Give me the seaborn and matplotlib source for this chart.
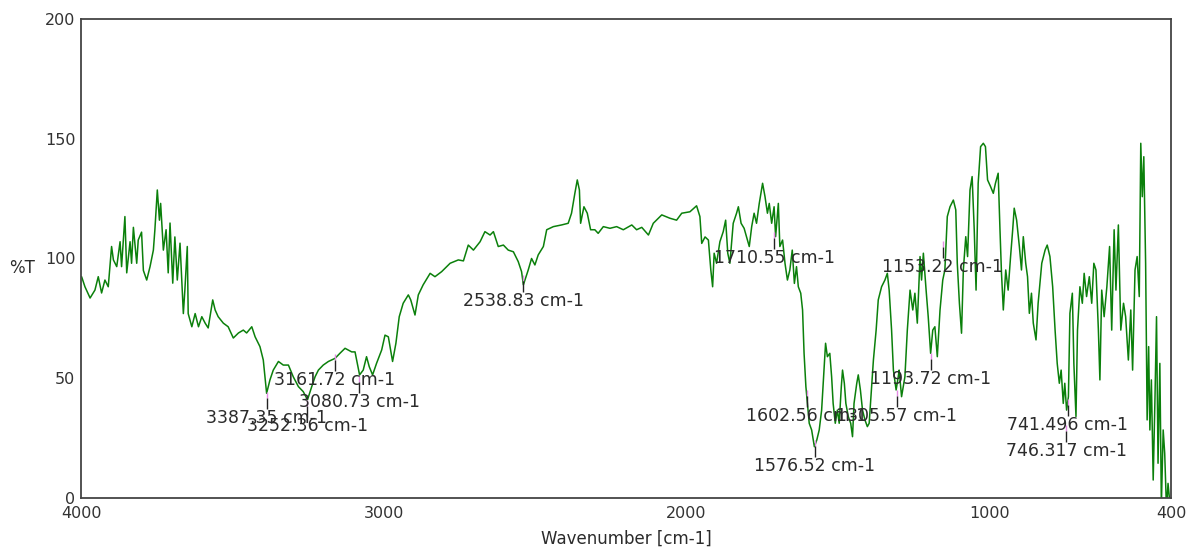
"""FTIR transmittance spectrum with labelled absorption peaks."""

import matplotlib

matplotlib.use("Agg")
import matplotlib.pyplot as plt
import pandas as pd
import seaborn as sns
from matplotlib.ticker import FixedLocator, MultipleLocator


WAVENUMBER = [
    3998, 3987, 3970, 3954, 3943, 3932, 3921, 3910, 3899, 3893, 3882, 3871,
    3866, 3855, 3849, 3838, 3833, 3827, 3816, 3811, 3800, 3794, 3783, 3772,
    3761, 3756, 3748, 3741, 3737, 3728, 3719, 3712, 3706, 3697, 3690, 3682,
    3673, 3662, 3657, 3649, 3646, 3634, 3623, 3612, 3601, 3590, 3580, 3565,
    3557, 3547, 3530, 3514, 3497, 3480, 3464, 3453, 3436, 3425, 3409, 3398,
    3387, 3376, 3365, 3348, 3332, 3315, 3299, 3282, 3266, 3252, 3238, 3227,
    3216, 3200, 3183, 3161, 3145, 3128, 3106, 3095, 3080, 3068, 3057, 3048,
    3037, 3024, 3007, 2996, 2985, 2971, 2960, 2949, 2936, 2919,
    2911, 2897, 2886, 2870, 2847, 2831, 2809, 2781, 2754, 2737, 2721, 2704,
    2682, 2666, 2649, 2638, 2622, 2605, 2589, 2572, 2556, 2545, 2539, 2523,
    2512, 2501, 2490, 2473, 2462, 2440, 2413, 2391, 2380, 2369, 2361, 2354,
    2350, 2339, 2328, 2317, 2303, 2292, 2275, 2253, 2231, 2209, 2181, 2165,
    2148, 2126, 2110, 2082, 2055, 2033, 2016, 1989, 1967, 1956,
    1950, 1939, 1928, 1920, 1914, 1909, 1901, 1890, 1879, 1871, 1864, 1857,
    1846, 1835, 1829, 1820, 1810, 1802, 1793, 1785, 1777, 1769, 1760, 1749,
    1741, 1733, 1727, 1719, 1711, 1706, 1697, 1692, 1683, 1675, 1667, 1659,
    1651, 1644, 1637, 1631, 1623, 1617, 1612, 1606, 1601, 1595, 1587, 1578,
    1570, 1562, 1554, 1546, 1541, 1535, 1527, 1521, 1516, 1509, 1502, 1496,
    1489, 1485, 1479, 1474, 1466, 1458, 1452, 1447, 1438, 1433, 1426, 1419,
    1411, 1403, 1397, 1389, 1383, 1374, 1367, 1356, 1345, 1337, 1331, 1323,
    1317, 1308, 1301,
    1298, 1290, 1279, 1271, 1262, 1253, 1246, 1238, 1229, 1224, 1218, 1209,
    1202, 1194, 1187, 1180, 1172, 1163, 1154, 1147, 1139, 1130, 1119, 1111,
    1106, 1099, 1092, 1086, 1078, 1072, 1064, 1057, 1050, 1044, 1037, 1029,
    1020, 1013, 1006, 996, 987, 980, 971, 965, 960, 954, 946, 938,
    930, 923, 918, 910, 901, 894, 888, 880, 874, 868, 861, 855,
    846, 839, 827, 816, 809, 800, 791, 783, 776, 769, 763, 756,
    751, 745, 739, 734, 726, 721, 714, 709, 701, 693, 687, 679,
    670, 662, 655, 648, 640, 635, 629, 621, 612, 603, 596, 588,
    582, 574, 566, 557, 550, 541, 533, 527, 519, 512, 505, 500,
    495, 490, 484, 479, 474, 470, 465, 459, 453, 448, 443, 437,
    432, 426, 421, 415, 410, 404,
]

TRANSMITTANCE = [
    92.4, 88.2, 83.5, 86.8, 92.4, 85.6, 91.0, 88.2, 105.0, 99.4, 96.6, 107.0,
    96.6, 117.5, 94.0, 107.0, 98.0, 113.0, 98.0, 107.7, 111.0, 95.0, 91.0, 96.6,
    103.5, 112.0, 128.6, 116.0, 123.0, 103.5, 112.0, 94.0, 114.8, 89.7, 109.0, 91.0,
    106.4, 77.0, 86.8, 105.0, 77.0, 71.5, 77.0, 71.5, 75.7, 73.0, 71.0, 82.7,
    78.5, 75.7, 73.0, 71.5, 66.8, 68.9, 70.1, 68.9, 71.5, 67.3, 63.2, 57.6,
    43.7, 49.3, 53.4, 57.0, 55.5, 55.5, 50.6, 46.5, 44.4, 41.0, 46.5, 50.6,
    53.4, 55.5, 57.0, 58.3, 60.4, 62.5, 61.0, 61.0, 51.4, 53.4, 59.0, 54.8,
    51.4, 56.2, 61.8, 68.0, 67.3, 57.0, 64.6, 75.7, 81.3, 84.8,
    82.7, 76.4, 84.8, 89.0, 93.8, 92.4, 94.5, 98.0, 99.4, 99.0, 105.6, 103.5,
    107.0, 111.2, 109.8, 111.2, 105.0, 105.6, 103.5, 102.8, 98.7, 94.5, 89.0, 95.2,
    100.0, 97.3, 101.5, 105.0, 112.0, 113.3, 114.0, 114.7, 118.9, 127.2, 132.8, 128.6,
    114.7, 121.6, 118.9, 112.0, 112.0, 110.5, 113.3, 112.6, 113.3, 112.0, 114.0, 112.0,
    113.0, 109.8, 114.7, 118.2, 116.8, 116.0, 118.9, 119.5, 122.0, 117.5,
    106.3, 109.0, 107.7, 95.2, 88.2, 102.2, 98.0, 107.0, 111.2, 116.0, 102.2, 98.0,
    114.7, 118.9, 121.6, 114.7, 112.6, 109.1, 105.0, 113.3, 118.9, 114.7, 123.0, 131.4,
    125.8, 118.9, 123.0, 114.7, 121.6, 109.1, 123.0, 105.0, 107.7, 98.0, 91.0, 95.2,
    103.5, 89.6, 96.6, 88.2, 85.5, 78.5, 60.4, 46.5, 39.5, 31.2, 28.4, 21.4,
    24.2, 28.4, 36.7, 53.4, 64.6, 59.0, 60.4, 50.6, 39.5, 31.2, 36.7, 31.2,
    46.5, 53.4, 47.9, 39.5, 34.0, 31.2, 25.6, 39.5, 47.9, 51.4, 45.1, 36.7,
    32.6, 29.8, 31.2, 46.5, 57.6, 70.1, 82.7, 88.2, 91.0, 93.8, 86.8, 70.1,
    53.4, 45.1, 50.6,
    53.4, 42.3, 50.6, 70.1, 86.8, 78.5, 85.5, 73.0, 100.8, 91.0, 102.2, 86.8,
    75.7, 60.4, 70.1, 71.5, 59.0, 78.5, 91.0, 95.2, 117.5, 121.6, 124.4, 120.3,
    98.0, 81.3, 68.8, 95.2, 109.1, 100.8, 128.6, 134.2, 112.0, 86.8, 131.4, 146.7,
    148.1, 146.7, 132.8, 130.0, 127.2, 131.4, 135.6, 112.0, 93.8, 78.5, 95.2, 86.8,
    100.8, 112.0, 121.0, 116.0, 105.0, 95.2, 109.1, 98.0, 92.4, 77.1, 85.5, 73.0,
    66.0, 81.3, 98.0, 103.5, 105.6, 100.8, 88.2, 70.1, 56.2, 47.9, 53.4, 39.5,
    47.9, 36.7, 42.3, 77.1, 85.5, 56.2, 34.0, 70.1, 88.2, 81.3, 93.8, 84.1,
    92.4, 81.3, 98.0, 95.2, 70.1, 49.3, 86.8, 75.7, 88.2, 105.0, 70.1, 112.0,
    86.8, 114.0, 70.1, 81.3, 75.7, 57.6, 78.5, 53.4, 95.2, 100.8, 84.1, 148.1,
    125.8, 142.5, 98.0, 32.6, 63.2, 28.4, 49.3, 7.5, 42.3, 75.7, 14.5, 56.2,
    -3.0, 28.4, 18.7, -5.0, 6.1, -2.0,
]

PEAK_WAVENUMBER = [
    3387.35, 3252.36, 3161.72, 3080.73, 2538.83, 1710.55, 1602.56,
    1576.52, 1305.57, 1193.72, 1153.22, 741.496, 746.317,
]
PEAK_LABEL = [
    "3387.35 cm-1", "3252.36 cm-1", "3161.72 cm-1", "3080.73 cm-1",
    "2538.83 cm-1", "1710.55 cm-1", "1602.56 cm-1", "1576.52 cm-1",
    "1305.57 cm-1", "1193.72 cm-1", "1153.22 cm-1", "741.496 cm-1",
    "746.317 cm-1",
]
PEAK_LABEL_Y = [33.4, 30.1, 49.3, 40.1, 82.3, 100.2, 34.2, 13.4, 34.2, 49.7, 96.5, 30.5, 19.6]


def main():
    spectrum = pd.DataFrame({"wavenumber": WAVENUMBER, "transmittance": TRANSMITTANCE})

    sns.set_style("white")
    plt.rcParams["font.family"] = ["DejaVu Sans"]
    text_color = "#2b2b2b"

    figure = plt.figure(figsize=(11.86, 5.47), dpi=100)
    ax = figure.add_axes([0.0683, 0.0896, 0.9191, 0.8757])

    sns.lineplot(
        data=spectrum,
        x="wavenumber",
        y="transmittance",
        estimator=None,
        sort=False,
        color="#0b800b",
        linewidth=1.1,
        ax=ax,
    )

    # peak markers: short tick above each label
    for wn, label, y in zip(PEAK_WAVENUMBER, PEAK_LABEL, PEAK_LABEL_Y):
        ax.vlines(wn, y + 8.4, y + 11.0, color="#e58be5", linewidth=1.0)
        ax.vlines(wn, y + 3.8, y + 8.4, color="#222222", linewidth=1.0)
        ax.text(wn, y, label, ha="center", va="center", fontsize=12.5, color=text_color)

    ax.set_xlim(4000, 400)
    ax.set_ylim(0, 200)
    ax.xaxis.set_major_locator(FixedLocator([4000, 3000, 2000, 1000, 400]))
    ax.xaxis.set_minor_locator(FixedLocator([3500, 2500, 1500, 500]))
    ax.yaxis.set_major_locator(FixedLocator([0, 50, 100, 150, 200]))
    ax.yaxis.set_minor_locator(MultipleLocator(25))
    ax.tick_params(which="both", direction="in", colors="#333333", width=1.0, labelsize=11.5)
    ax.tick_params(which="major", length=8)
    ax.tick_params(which="minor", length=4)
    ax.tick_params(axis="x", which="major", pad=6)
    ax.tick_params(axis="y", which="major", pad=4)

    for spine in ax.spines.values():
        spine.set_visible(True)
        spine.set_color("#444444")
        spine.set_linewidth(1.3)

    ax.set_xlabel("Wavenumber [cm-1]", fontsize=12, color=text_color)
    ax.xaxis.set_label_coords(0.5, -0.066)
    ax.set_ylabel("")
    figure.text(22 / 1186, 1 - 268 / 547, "%T", ha="center", va="center", fontsize=12, color=text_color)

    figure.savefig("out.png", dpi=100)
    plt.close(figure)


if __name__ == "__main__":
    main()
